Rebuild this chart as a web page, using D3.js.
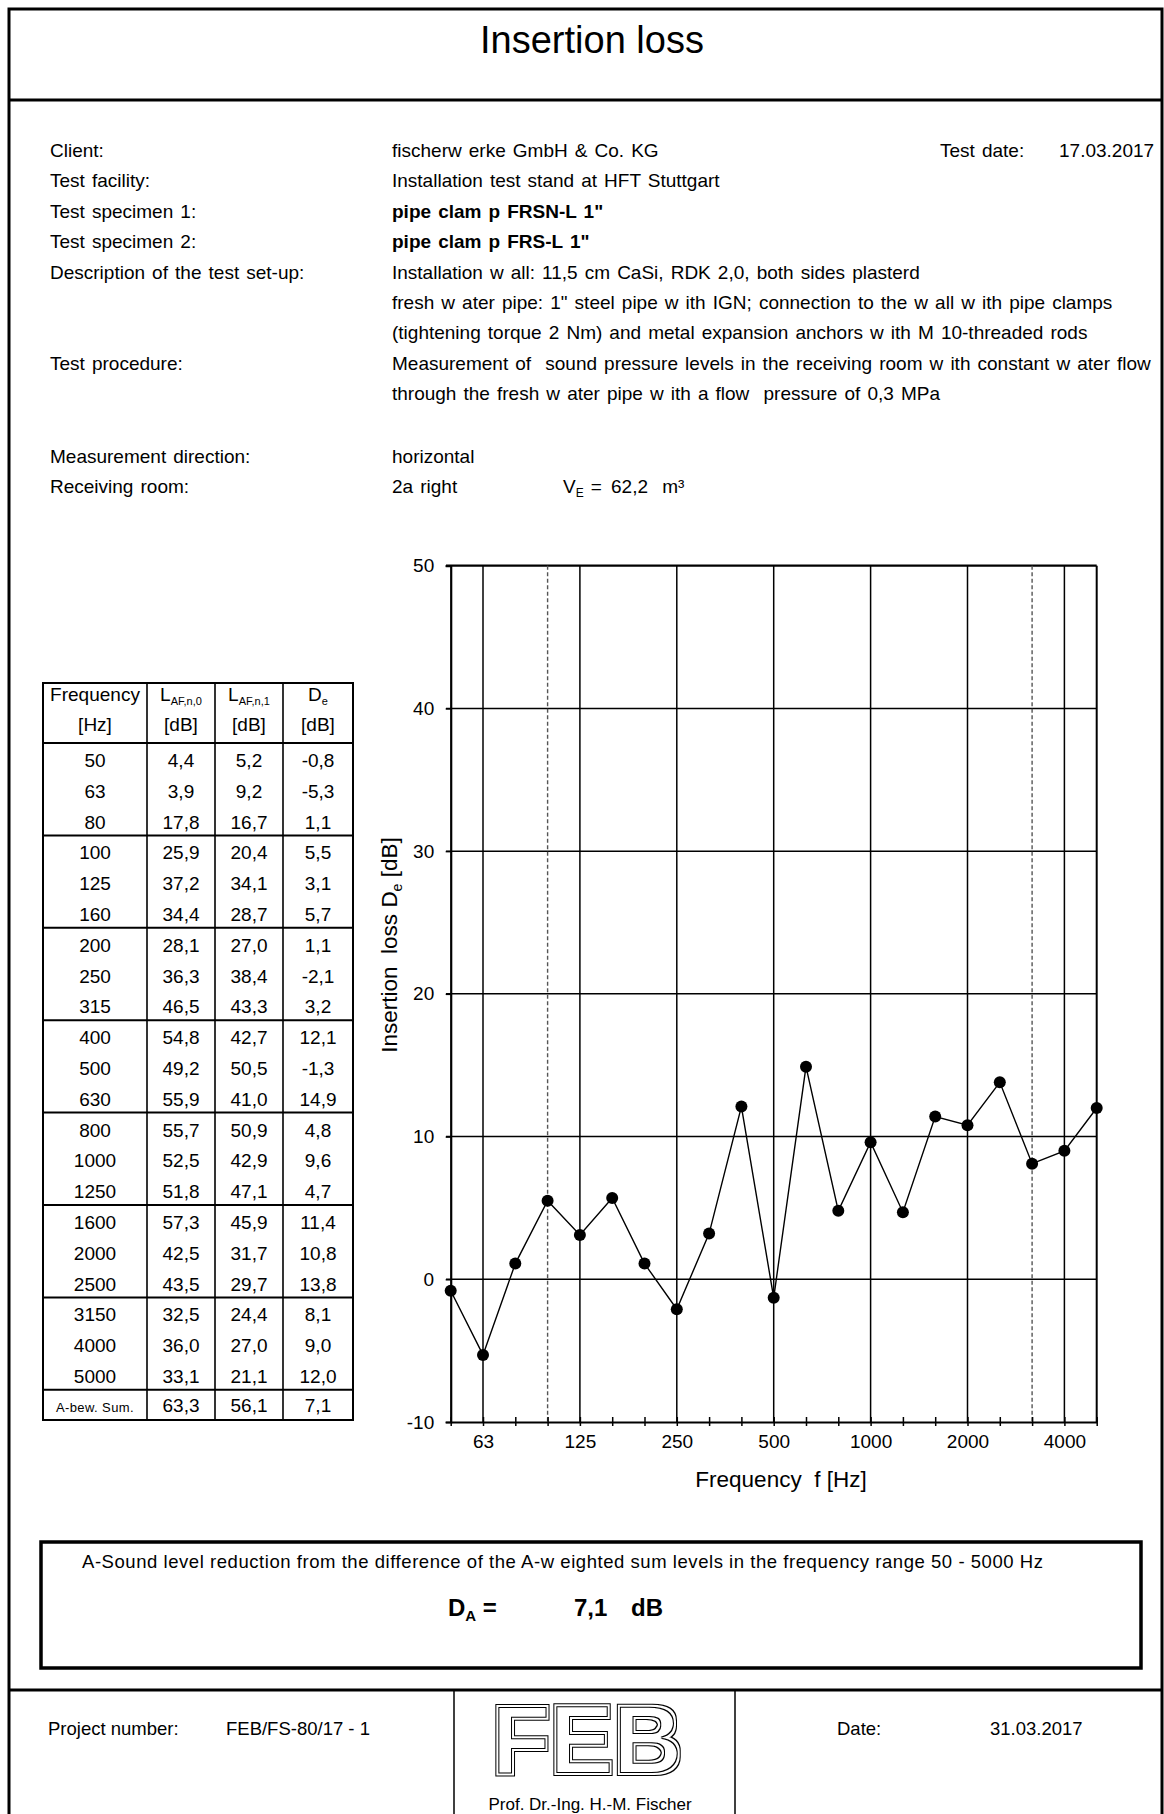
<!DOCTYPE html>
<html>
<head>
<meta charset="utf-8">
<script src="https://cdn.jsdelivr.net/npm/d3@7"></script>
<style>
  body { margin: 0; background: #fff; }
  svg { display: block; font-family: Arial, "Liberation Sans", sans-serif; }
  text { white-space: pre; fill: #000; }
</style>
</head>
<body>
<svg id="page" width="1164" height="1814">
  <defs>
    <!-- double outline for the FEB logo letters -->
    <filter id="outline" x="-10%" y="-10%" width="120%" height="120%">
      <feMorphology in="SourceAlpha" operator="dilate" radius="3" result="d3"/>
      <feMorphology in="SourceAlpha" operator="dilate" radius="1.8" result="d18"/>
      <feMorphology in="SourceAlpha" operator="erode" radius="1.1" result="e11"/>
      <feComposite in="d3" in2="d18" operator="out" result="outer"/>
      <feComposite in="SourceAlpha" in2="e11" operator="out" result="inner"/>
      <feMerge><feMergeNode in="outer"/><feMergeNode in="inner"/></feMerge>
    </filter>
  </defs>
</svg>
<script>
// third-octave bands and measured levels (from the test table)
const freqs = [50, 63, 80, 100, 125, 160, 200, 250, 315, 400, 500, 630, 800, 1000, 1250, 1600, 2000, 2500, 3150, 4000, 5000];
const lafn0 = [4.4, 3.9, 17.8, 25.9, 37.2, 34.4, 28.1, 36.3, 46.5, 54.8, 49.2, 55.9, 55.7, 52.5, 51.8, 57.3, 42.5, 43.5, 32.5, 36.0, 33.1];
const lafn1 = [5.2, 9.2, 16.7, 20.4, 34.1, 28.7, 27.0, 38.4, 43.3, 42.7, 50.5, 41.0, 50.9, 42.9, 47.1, 45.9, 31.7, 29.7, 24.4, 27.0, 21.1];
const dE    = [-0.8, -5.3, 1.1, 5.5, 3.1, 5.7, 1.1, -2.1, 3.2, 12.1, -1.3, 14.9, 4.8, 9.6, 4.7, 11.4, 10.8, 13.8, 8.1, 9.0, 12.0];
const sumRow = ["A-bew. Sum.", 63.3, 56.1, 7.1];

const yTicks = [-10, 0, 10, 20, 30, 40, 50];
const xLabels = [63, 125, 250, 500, 1000, 2000, 4000];
const dashedAt = [100, 3150];

// comma decimals, plain hyphen for negatives
const fmt = v => d3.format(".1f")(v).replace(".", ",").replace("\u2212", "-");

const svg = d3.select("#page");

// frame
svg.append("rect")
  .attr("x", 9).attr("y", 9).attr("width", 1153).attr("height", 1840)
  .attr("fill", "none").attr("stroke", "#000").attr("stroke-width", 3);
svg.append("line").attr("x1", 9).attr("x2", 1162).attr("y1", 100).attr("y2", 100)
  .attr("stroke", "#000").attr("stroke-width", 3);
svg.append("line").attr("x1", 9).attr("x2", 1162).attr("y1", 1690).attr("y2", 1690)
  .attr("stroke", "#000").attr("stroke-width", 3);

// title
svg.append("text").attr("x", 592).attr("y", 53)
  .attr("text-anchor", "middle").style("font-size", "38px")
  .text("Insertion loss");

// info block
const infoRows = [
  ["Client:", "fischerw erke GmbH & Co. KG", false],
  ["Test facility:", "Installation test stand at HFT Stuttgart", false],
  ["Test specimen 1:", "pipe clam p FRSN-L 1\"", true],
  ["Test specimen 2:", "pipe clam p FRS-L 1\"", true],
  ["Description of the test set-up:", "Installation w all: 11,5 cm CaSi, RDK 2,0, both sides plasterd", false],
  ["", "fresh w ater pipe: 1\" steel pipe w ith IGN; connection to the w all w ith pipe clamps", false],
  ["", "(tightening torque 2 Nm) and metal expansion anchors w ith M 10-threaded rods", false],
  ["Test procedure:", "Measurement of  sound pressure levels in the receiving room w ith constant w ater flow", false],
  ["", "through the fresh w ater pipe w ith a flow  pressure of 0,3 MPa", false]
];
const info = svg.append("g").style("font-size", "19px").style("word-spacing", "1.8px");
infoRows.forEach((r, i) => {
  const yy = 157 + i * 30.4;
  info.append("text").attr("x", 50).attr("y", yy).text(r[0]);
  info.append("text").attr("x", 392).attr("y", yy)
    .style("font-weight", r[2] ? "bold" : "normal").text(r[1]);
});
info.append("text").attr("x", 940).attr("y", 157).text("Test date:");
info.append("text").attr("x", 1059).attr("y", 157).text("17.03.2017");
info.append("text").attr("x", 50).attr("y", 463).text("Measurement direction:");
info.append("text").attr("x", 392).attr("y", 463).text("horizontal");
info.append("text").attr("x", 50).attr("y", 493).text("Receiving room:");
info.append("text").attr("x", 392).attr("y", 493).text("2a right");
const ve = info.append("text").attr("x", 563).attr("y", 493);
ve.append("tspan").text("V");
ve.append("tspan").attr("dy", 4).style("font-size", "12px").text("E");
ve.append("tspan").attr("dy", -4).text(" =");
info.append("text").attr("x", 611).attr("y", 493).text("62,2  m³");

// table
const colX = [43, 147, 215, 283, 353];
const tTop = 683, hBottom = 743, rowH = 30.8;
const rowsBottom = hBottom + rowH * freqs.length;
const tBottom = 1420;
const table = svg.append("g").style("font-size", "19px");
const colMid = i => (colX[i] + colX[i + 1]) / 2;

table.append("rect").attr("x", colX[0]).attr("y", tTop)
  .attr("width", colX[4] - colX[0]).attr("height", tBottom - tTop)
  .attr("fill", "none").attr("stroke", "#000").attr("stroke-width", 2);
colX.slice(1, 4).forEach(x => {
  table.append("line").attr("x1", x).attr("x2", x).attr("y1", tTop).attr("y2", tBottom)
    .attr("stroke", "#000").attr("stroke-width", 1.6);
});
const hLines = [hBottom];
for (let i = 3; i <= freqs.length; i += 3) hLines.push(hBottom + rowH * i);
hLines.forEach(y => {
  table.append("line").attr("x1", colX[0]).attr("x2", colX[4]).attr("y1", y).attr("y2", y)
    .attr("stroke", "#000").attr("stroke-width", 2);
});

// header
const h1 = 701, h2 = 731;
table.append("text").attr("x", colMid(0)).attr("y", h1).attr("text-anchor", "middle").text("Frequency");
table.append("text").attr("x", colMid(0)).attr("y", h2).attr("text-anchor", "middle").text("[Hz]");
[["L", "AF,n,0"], ["L", "AF,n,1"], ["D", "e"]].forEach((h, i) => {
  const t = table.append("text").attr("x", colMid(i + 1)).attr("y", h1).attr("text-anchor", "middle");
  t.append("tspan").text(h[0]);
  t.append("tspan").attr("dy", 4).style("font-size", "11px").text(h[1]);
  table.append("text").attr("x", colMid(i + 1)).attr("y", h2).attr("text-anchor", "middle").text("[dB]");
});

freqs.forEach((f, i) => {
  const yy = hBottom + rowH * i + 24;
  const vals = [f, fmt(lafn0[i]), fmt(lafn1[i]), fmt(dE[i])];
  vals.forEach((v, c) => {
    table.append("text").attr("x", colMid(c)).attr("y", yy).attr("text-anchor", "middle").text(v);
  });
});
const sy = rowsBottom + 22;
table.append("text").attr("x", colMid(0)).attr("y", sy).attr("text-anchor", "middle")
  .style("font-size", "13px").style("letter-spacing", "0.4px").text(sumRow[0]);
sumRow.slice(1).forEach((v, c) => {
  table.append("text").attr("x", colMid(c + 1)).attr("y", sy).attr("text-anchor", "middle").text(fmt(v));
});

// chart
const x = d3.scalePoint().domain(freqs).range([450.7, 1096.7]);
const y = d3.scaleLinear().domain([-10, 50]).range([1422, 565.7]);
const chart = svg.append("g");

// horizontal grid
chart.selectAll(".hgrid").data(yTicks.filter(d => d > -10))
  .enter().append("line")
  .attr("x1", 446).attr("x2", x(5000))
  .attr("y1", d => y(d)).attr("y2", d => y(d))
  .attr("stroke", "#000").attr("stroke-width", d => d === 50 ? 2.2 : 1.5);

// vertical grid
chart.selectAll(".vgrid").data(xLabels.concat([5000]))
  .enter().append("line")
  .attr("x1", d => x(d)).attr("x2", d => x(d))
  .attr("y1", y(50)).attr("y2", y(-10))
  .attr("stroke", "#000").attr("stroke-width", d => d === 5000 ? 2 : 1.5);
chart.selectAll(".dgrid").data(dashedAt)
  .enter().append("line")
  .attr("x1", d => x(d)).attr("x2", d => x(d))
  .attr("y1", y(50)).attr("y2", y(-10))
  .attr("stroke", "#555").attr("stroke-width", 1.4).attr("stroke-dasharray", "4,2.5");

// axes
const yAxis = chart.append("g").attr("transform", `translate(${x(50)},0)`)
  .call(d3.axisLeft(y).tickValues(yTicks).tickSize(5).tickPadding(11.5).tickFormat(d => d));
yAxis.select(".domain").attr("stroke-width", 2.2);
yAxis.selectAll(".tick line").attr("stroke-width", 1.5);
yAxis.selectAll("text").style("font-size", "19px").attr("font-family", null);

const xAxis = chart.append("g").attr("transform", `translate(0,${y(-10)})`)
  .call(d3.axisBottom(x).tickSizeInner(4).tickSizeOuter(0).tickPadding(8.5)
    .tickFormat(d => xLabels.includes(d) ? d : ""));
xAxis.select(".domain").attr("stroke-width", 2.2);
xAxis.selectAll(".tick line").attr("y1", -5).attr("stroke-width", 1.5);
xAxis.selectAll("text").style("font-size", "19px").attr("font-family", null);

// series
chart.append("path").datum(dE.map((v, i) => [freqs[i], v]))
  .attr("fill", "none").attr("stroke", "#000").attr("stroke-width", 1.4)
  .attr("d", d3.line().x(d => x(d[0])).y(d => y(d[1])));
chart.selectAll(".pt").data(dE.map((v, i) => [freqs[i], v]))
  .enter().append("circle")
  .attr("cx", d => x(d[0])).attr("cy", d => y(d[1])).attr("r", 6)
  .attr("fill", "#000");

// axis titles
const yt = chart.append("text").attr("transform", "translate(397,945) rotate(-90)")
  .attr("text-anchor", "middle").style("font-size", "22.5px");
yt.append("tspan").text("Insertion  loss D");
yt.append("tspan").attr("dy", 5).style("font-size", "14px").text("e");
yt.append("tspan").attr("dy", -5).text(" [dB]");
chart.append("text").attr("x", 781).attr("y", 1487).attr("text-anchor", "middle")
  .style("font-size", "22.5px").text("Frequency  f [Hz]");

// result box
svg.append("rect").attr("x", 41).attr("y", 1542).attr("width", 1100).attr("height", 126)
  .attr("fill", "none").attr("stroke", "#000").attr("stroke-width", 3.5);
svg.append("text").attr("x", 82).attr("y", 1568).style("font-size", "18.5px")
  .attr("textLength", 961).attr("lengthAdjust", "spacing")
  .text("A-Sound level reduction from the difference of the A-w eighted sum levels in the frequency range 50 - 5000 Hz");
const da = svg.append("text").attr("x", 448).attr("y", 1616)
  .style("font-size", "24px").style("font-weight", "bold");
da.append("tspan").text("D");
da.append("tspan").attr("dy", 5).style("font-size", "15px").text("A");
da.append("tspan").attr("dy", -5).text(" =");
da.append("tspan").attr("x", 574).text(fmt(sumRow[3]));
da.append("tspan").attr("x", 631).text("dB");

// footer
[454, 735].forEach(xx => {
  svg.append("line").attr("x1", xx).attr("x2", xx).attr("y1", 1690).attr("y2", 1814)
    .attr("stroke", "#000").attr("stroke-width", 1.5);
});
const foot = svg.append("g").style("font-size", "18.5px");
foot.append("text").attr("x", 48).attr("y", 1735).text("Project number:");
foot.append("text").attr("x", 226).attr("y", 1735).text("FEB/FS-80/17 - 1");
foot.append("text").attr("x", 837).attr("y", 1735).text("Date:");
foot.append("text").attr("x", 990).attr("y", 1735).text("31.03.2017");
foot.append("text").attr("x", 590).attr("y", 1809.5).attr("text-anchor", "middle")
  .style("font-size", "17px").text("Prof. Dr.-Ing. H.-M. Fischer");

// logo
svg.append("text").attr("x", 587).attr("y", 1773).attr("text-anchor", "middle")
  .attr("textLength", 190).attr("lengthAdjust", "spacingAndGlyphs")
  .style("font-size", "96px").style("font-weight", "bold")
  .attr("filter", "url(#outline)").text("FEB");
</script>
</body>
</html>
